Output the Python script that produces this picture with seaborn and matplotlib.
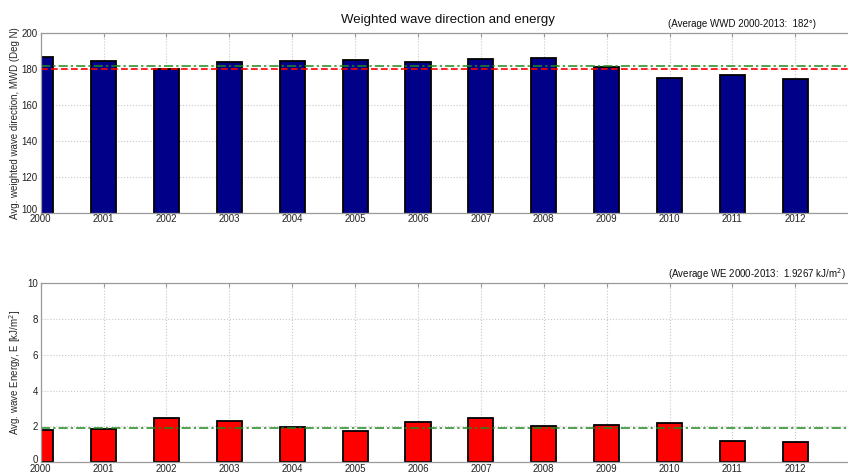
import matplotlib
matplotlib.use("Agg")
import matplotlib.pyplot as plt
import matplotlib.transforms as mtransforms
import seaborn as sns
import pandas as pd

years = [2000, 2001, 2002, 2003, 2004, 2005, 2006, 2007, 2008, 2009, 2010, 2011, 2012]
mwd = [186.5, 184.7, 180.3, 183.8, 184.3, 185.1, 184.0, 185.9, 186.4, 181.3, 175.2, 176.7, 174.3]
energy = [1.79, 1.88, 2.44, 2.29, 1.97, 1.75, 2.26, 2.44, 2.03, 2.07, 2.17, 1.18, 1.13]
avg_mwd = 182
ref_mwd = 180
avg_energy = 1.9267

sns.set_style("white")
plt.rcParams["font.family"] = ["Liberation Sans", "DejaVu Sans"]

df = pd.DataFrame({"year": years, "mwd": mwd, "energy": energy})

fig = plt.figure(figsize=(8.48, 4.75), dpi=100)
ax1 = fig.add_axes([0.048, 0.552, 0.964, 0.378])
ax2 = fig.add_axes([0.048, 0.0270, 0.964, 0.377])

spine_col = "#9a9a9a"
grid_kw = dict(color="#c8c8c8", linestyle=":", linewidth=0.8)


def style(ax, ylo, yhi, step):
    ax.set_xlim(2000, 2013)
    ax.set_ylim(ylo, yhi)
    ax.set_xticks(years)
    ax.set_xticklabels([str(y) for y in years])
    ax.set_yticks(list(range(ylo, yhi + 1, step)))
    ax.grid(True, **grid_kw)
    ax.set_axisbelow(True)
    for s in ax.spines.values():
        s.set_color(spine_col)
        s.set_linewidth(0.9)
    ax.tick_params(direction="in", length=3, color=spine_col, labelsize=7,
                   labelcolor="#222222", pad=2, top=True, right=False)
    ax.tick_params(axis="x", pad=1.2)
    ax.set_xlabel("")
    # lift the lowest y label a touch so it clears the first year label
    lowest = ax.get_yticklabels()[0]
    lowest.set_transform(lowest.get_transform() +
                         mtransforms.ScaledTranslation(0, 2.5 / 72, fig.dpi_scale_trans))


sns.barplot(data=df, x="year", y="mwd", native_scale=True, width=0.4,
            color="#000088", edgecolor="black", linewidth=1.3,
            saturation=1, ax=ax1)
style(ax1, 100, 200, 20)
ax1.axhline(avg_mwd, color="#1f8a1f", linestyle="-.", linewidth=1.1, dashes=(6, 2, 1.5, 2))
ax1.axhline(ref_mwd, color="#ff0000", linestyle="--", linewidth=1.2, dashes=(4, 2))
ax1.set_ylabel("Avg. weighted wave direction, MWD (Deg N)", fontsize=7, labelpad=1)

sns.barplot(data=df, x="year", y="energy", native_scale=True, width=0.4,
            color="#ff0000", edgecolor="black", linewidth=1.3,
            saturation=1, ax=ax2)
style(ax2, 0, 10, 2)
ax2.axhline(avg_energy, color="#1f8a1f", linestyle="-.", linewidth=1.1, dashes=(6, 2, 1.5, 2))
ax2.set_ylabel("Avg. wave Energy, E [kJ/m$^2$]", fontsize=7, labelpad=3)

fig.text(0.528, 0.957, "Weighted wave direction and energy", fontsize=9.5,
         ha="center", va="center", color="#111111")
fig.text(0.788, 0.950, "(Average WWD 2000-2013:  182°)", fontsize=7,
         ha="left", va="center", color="#111111")
fig.text(0.788, 0.423, "(Average WE 2000-2013:  1.9267 kJ/m$^2$)", fontsize=7,
         ha="left", va="center", color="#111111")

fig.savefig("out.png", dpi=100)
